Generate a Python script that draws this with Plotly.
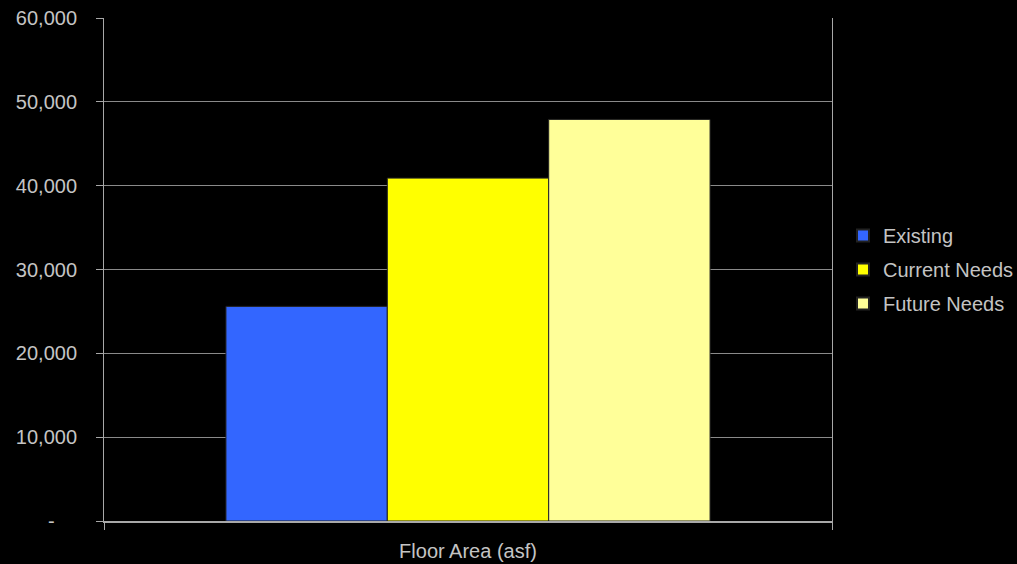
import plotly.graph_objects as go

categories = ["Floor Area (asf)"]
series_names = ["Existing", "Current Needs", "Future Needs"]
existing = [25600]
current_needs = [40900]
future_needs = [47900]
colors = ["#3366FF", "#FFFF00", "#FFFF99"]
y_tickvals = [0, 10000, 20000, 30000, 40000, 50000, 60000]
y_ticktext = ["-\u00a0\u00a0\u00a0\u00a0", "10,000", "20,000", "30,000", "40,000", "50,000", "60,000"]

fig = go.Figure()
for name, vals, col in zip(series_names, [existing, current_needs, future_needs], colors):
    fig.add_trace(go.Bar(
        name=name, x=categories, y=vals, legendgroup=name,
        marker=dict(color=col, line=dict(color="#222222", width=1)),
    ))

font = dict(family="Liberation Sans, Arial, sans-serif", size=20, color="#C4C4C4")

fig.update_layout(
    width=1017, height=564,
    paper_bgcolor="black", plot_bgcolor="black",
    margin=dict(l=104, r=185, t=18, b=43, autoexpand=False),
    barmode="group", bargap=0.335, bargroupgap=0,
    font=font,
    showlegend=True,
    legend=dict(x=1.0151, xanchor="left", y=0.5, yanchor="middle",
                bgcolor="rgba(0,0,0,0)", font=font, tracegroupgap=5,
                traceorder="grouped", itemsizing="constant"),
    xaxis=dict(
        type="category", showline=True, linecolor="#A8A8A8", linewidth=2,
        ticks="outside", tickson="boundaries", ticklen=7, tickcolor="#A8A8A8",
        tickwidth=1, showgrid=False, tickfont=font, automargin=False,
        ticklabelstandoff=11,
    ),
    yaxis=dict(
        range=[0, 60000], tickvals=y_tickvals, ticktext=y_ticktext,
        showline=True, linecolor="#A8A8A8", linewidth=1, mirror=True,
        ticks="outside", ticklen=7, tickcolor="#A8A8A8",
        showgrid=True, gridcolor="#8A8A8A", gridwidth=1,
        zeroline=False, tickfont=font, ticklabelstandoff=15, automargin=False,
    ),
)

fig.write_html(
    "out.html",
    config={"displayModeBar": False},
    post_script="document.body.style.margin='0';document.body.style.padding='0';document.body.style.background='black';",
)
